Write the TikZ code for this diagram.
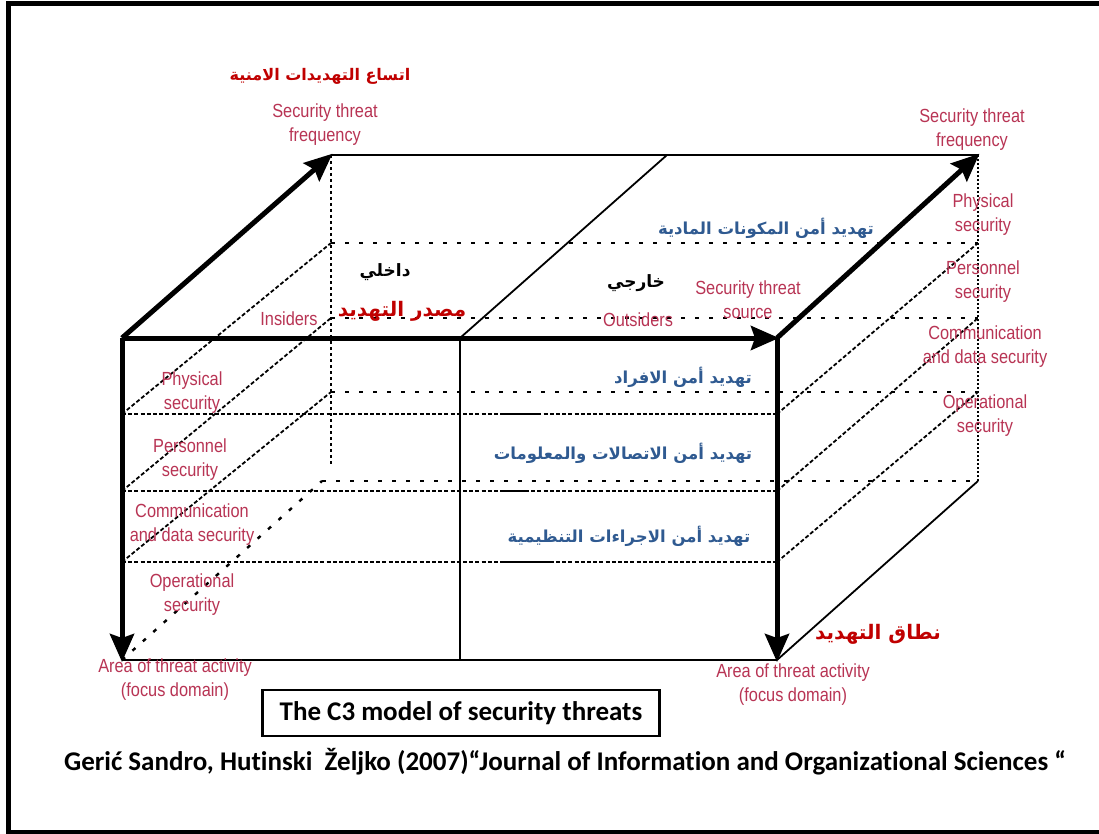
\documentclass[tikz,border=0pt]{standalone}
\usepackage{fontspec}
\usetikzlibrary{arrows.meta}
\TeXXeTstate=1
\setmainfont{Liberation Sans}
\newfontfamily\narrowfont[FakeStretch=0.86]{Liberation Sans}
\newfontfamily\arabfont[Script=Arabic]{DejaVu Sans}
\newfontfamily\capfont[Ligatures=NoCommon]{Carlito}
\definecolor{labelpink}{RGB}{184,52,84}
\definecolor{darkred}{RGB}{192,0,0}
\definecolor{arblue}{RGB}{47,90,145}
\tikzset{
  lbl/.style={font=\narrowfont\fontsize{19}{24}\selectfont, text=labelpink, align=center, inner sep=0pt},
  artxt/.style={font=\arabfont\bfseries\fontsize{#1}{#1}\selectfont, inner sep=0pt},
  artxt/.default=16,
  bigarrow/.style={line width=5pt, -{Stealth[length=28pt,width=24pt,inset=4pt]}, shorten >=-2pt},
  edge/.style={line width=2.4pt},
  thinedge/.style={line width=1.8pt},
  densedash/.style={line width=1.8pt, dash pattern=on 4pt off 2.2pt},
  sparsedash/.style={line width=2.4pt, dash pattern=on 4pt off 10pt},
  finedot/.style={line width=2pt, dash pattern=on 3pt off 3pt},
}
\begin{document}
\begin{tikzpicture}[x=1pt,y=-1pt]
\clip (0,0) rectangle (1099,834);
\fill[white] (0,0) rectangle (1099,834);
% outer frame (right side runs past the page edge)
\draw[line width=5pt] (8,4) rectangle (1115,832);

% ---- corner points of the box ----
\coordinate (FTL) at (122,338);
\coordinate (FTR) at (777,338);
\coordinate (FBL) at (122,660);
\coordinate (FBR) at (777,660);
\coordinate (FTM) at (460,338);
\coordinate (FBM) at (460,660);
\coordinate (BTL) at (331,155);
\coordinate (BTR) at (978,155);
\coordinate (BTM) at (667,155);
\coordinate (BLE) at (331,466);
% front layer lines
\coordinate (F1L) at (122,414); \coordinate (F1R) at (777,414);
\coordinate (F2L) at (122,491); \coordinate (F2R) at (777,491);
\coordinate (F3L) at (122,562); \coordinate (F3R) at (777,562);
% back layer lines
\coordinate (B1L) at (331,243); \coordinate (B1R) at (978,243);
\coordinate (B2L) at (331,318); \coordinate (B2R) at (978,318);
\coordinate (B3L) at (331,392); \coordinate (B3R) at (978,392);
\coordinate (B4L) at (322,481); \coordinate (B4R) at (978,481);
% solid pieces on the front layer lines
\coordinate (S1a) at (500,414); \coordinate (S1b) at (537,414);
\coordinate (S2a) at (500,491); \coordinate (S2b) at (525,491);
\coordinate (S3a) at (500,562); \coordinate (S3b) at (550,562);

% ---- hidden (back) lines ----
\draw[sparsedash] (B1L) -- (B1R);
\draw[sparsedash] (B2L) -- (B2R);
\draw[sparsedash] (B3L) -- (B3R);
\draw[sparsedash] (B4L) -- (B4R);
\draw[finedot] (BTL) -- (BLE);
\draw[line width=1.8pt, dash pattern=on 2pt off 2pt] (BTR) -- (B4R);

% ---- layer lines on the front face ----
\draw[densedash] (F1L) -- (F1R);
\draw[densedash] (F2L) -- (F2R);
\draw[densedash] (F3L) -- (F3R);
\draw[thinedge] (S1a) -- (S1b);
\draw[thinedge] (S2a) -- (S2b);
\draw[thinedge] (S3a) -- (S3b);

% ---- depth diagonals ----
\draw[densedash] (F1L) -- (B1L);
\draw[densedash] (F2L) -- (B2L);
\draw[densedash] (F3L) -- (B3L);
\draw[sparsedash] (FBL) -- (B4L);
\draw[densedash] (F1R) -- (B1R);
\draw[densedash] (F2R) -- (B2R);
\draw[densedash] (F3R) -- (B3R);
\draw[thinedge] (FBR) -- (B4R);

% ---- visible edges ----
\draw[edge] (BTL) -- (BTR);
\draw[thinedge] (FTM) -- (BTM);
\draw[thinedge] (FTM) -- (FBM);
\draw[edge] (FBL) -- (FBR);

% ---- pink labels ----
\node[lbl] (freqL) at (325,125) {Security threat\\frequency};
\node[lbl] (freqR) at (972,130) {Security threat\\frequency};
\node[lbl] (physR) at (983,215) {Physical\\security};
\node[lbl] (persR) at (983,282) {Personnel\\security};
\node[lbl] (commR) at (985,347) {Communication\\and data security};
\node[lbl] (operR) at (985,416) {Operational\\security};
\node[lbl] (physL) at (192,393) {Physical\\security};
\node[lbl] (persL) at (190,460) {Personnel\\security};
\node[lbl] (commL) at (192,525) {Communication\\and data security};
\node[lbl] (operL) at (192,595) {Operational\\security};
\node[lbl] (insiders) at (289,319) {Insiders};
\node[lbl] (outsiders) at (638,320) {Outsiders};
\node[lbl] (source) at (748,300) {Security threat\\source};
\node[lbl] (areaL) at (175,680) {Area of threat activity\\(focus domain)};
\node[lbl] (areaR) at (793,685) {Area of threat activity\\(focus domain)};

% ---- axis arrows ----
\draw[bigarrow] (FTL) -- (BTL);
\draw[bigarrow] (FTL) -- (FTR);
\draw[bigarrow] (FTR) -- (BTR);
\draw[bigarrow] (FTL) -- (FBL);
\draw[bigarrow] (FTR) -- (FBR);

% ---- Arabic labels ----
\node[artxt=16, text=darkred] (arFreq) at (320,76) {\beginR اتساع التهديدات الامنية\endR};
\node[artxt=17] (arIn) at (385,272) {\beginR داخلي\endR};
\node[artxt=20, text=darkred] (arSrc) at (402,311) {\beginR مصدر التهديد\endR};
\node[artxt=17] (arOut) at (636,283) {\beginR خارجي\endR};
\node[artxt=16.5, text=arblue] (arPhys) at (766,228) {\beginR تهديد أمن المكونات المادية\endR};
\node[artxt=16.5, text=arblue] (arPers) at (683,377) {\beginR تهديد أمن الافراد\endR};
\node[artxt=16.5, text=arblue] (arComm) at (623,453) {\beginR تهديد أمن الاتصالات والمعلومات\endR};
\node[artxt=16.5, text=arblue] (arOper) at (629,536) {\beginR تهديد أمن الاجراءات التنظيمية\endR};
\node[artxt=20, text=darkred] (arArea) at (878,634) {\beginR نطاق التهديد\endR};

% ---- caption ----
\node[draw, line width=2.5pt, minimum width=397pt, minimum height=46pt, inner sep=0pt,
      font=\capfont\bfseries\fontsize{27}{30}\selectfont] (title) at (461,713) {The C3 model of security threats};
\node[font=\capfont\bfseries\fontsize{27}{30}\selectfont, inner sep=0pt] (cite) at (565,762)
  {Geri\'c Sandro, Hutinski\ \ \v{Z}eljko (2007)\textquotedblleft Journal of Information and Organizational Sciences \textquotedblleft};
\end{tikzpicture}
\end{document}
